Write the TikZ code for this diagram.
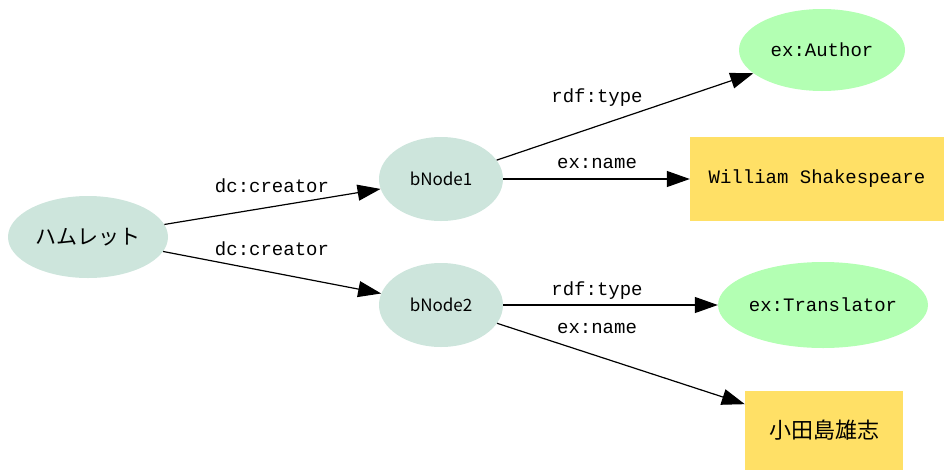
\documentclass[tikz,border=0pt]{standalone}
\usepackage{fontspec}
\setmainfont{Noto Sans CJK JP}
\setmonofont{Liberation Mono}
\usetikzlibrary{arrows.meta,shapes.geometric}
\definecolor{bnode}{HTML}{CDE5DC}
\definecolor{cls}{HTML}{B3FFB3}
\definecolor{lit}{HTML}{FFE066}
\tikzset{
  >={Triangle[length=23pt,width=16pt]},
  res/.style={ellipse,fill=bnode,inner sep=0pt,font=\fontsize{17}{20}\selectfont},
  clsnode/.style={ellipse,fill=cls,inner sep=0pt,font=\fontsize{19}{22}\selectfont\ttfamily},
  litbox/.style={rectangle,fill=lit,inner sep=0pt},
  elab/.style={inner sep=1pt,font=\fontsize{19}{22}\selectfont\ttfamily},
  edge/.style={->,line width=1.2pt},
}
\begin{document}
\begin{tikzpicture}[x=1pt,y=-1pt]
\useasboundingbox (0,0) rectangle (944,469);
% resources
\node[res,minimum width=160,minimum height=82,font=\fontsize{21}{24}\selectfont] (ham) at (88,237) {ハムレット};
\node[res,minimum width=124,minimum height=84] (bn1) at (441,179) {bNode1};
\node[res,minimum width=124,minimum height=84] (bn2) at (441,305) {bNode2};
% classes
\node[clsnode,minimum width=166,minimum height=82] (author) at (822,50) {ex:Author};
\node[clsnode,minimum width=210,minimum height=86] (trans) at (823,305) {ex:Translator};
% literals
\node[litbox,minimum width=254,minimum height=84,font=\fontsize{19}{22}\selectfont\ttfamily] (shakes) at (817,179) {William Shakespeare};
\node[litbox,minimum width=158,minimum height=79,font=\fontsize{22}{26}\selectfont] (odashima) at (824,430) {小田島雄志};
% edges
\draw[edge] (ham) -- (bn1);
\draw[edge] (ham) -- (bn2);
\draw[edge] (bn1) -- (author);
\draw[edge] (bn1) -- (shakes);
\draw[edge] (bn2) -- (trans);
\draw[edge] (bn2) -- (odashima);
% edge labels
\node[elab] (l1) at (272,186) {dc:creator};
\node[elab] (l2) at (272,249) {dc:creator};
\node[elab] (l3) at (597,98) {rdf:type};
\node[elab] (l4) at (597,163) {ex:name};
\node[elab] (l5) at (597,291) {rdf:type};
\node[elab] (l6) at (597,328) {ex:name};
\end{tikzpicture}
\end{document}
